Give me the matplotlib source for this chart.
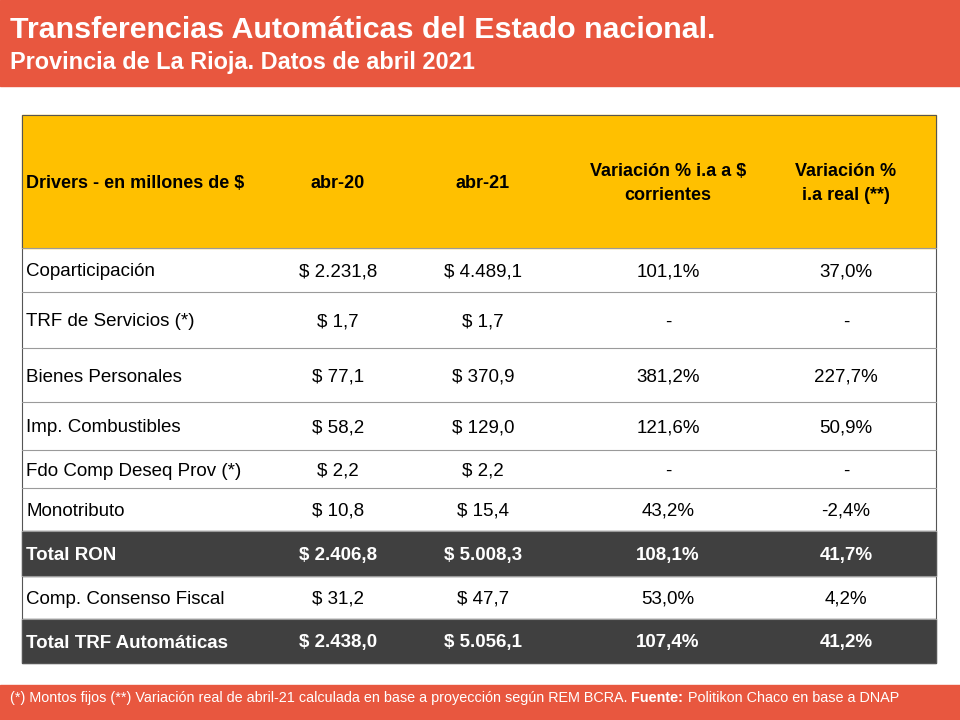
import matplotlib
matplotlib.use("Agg")
import matplotlib.pyplot as plt
from matplotlib.patches import Rectangle

plt.rcParams["font.family"] = ["Liberation Sans", "DejaVu Sans"]

title = "Transferencias Automáticas del Estado nacional."
subtitle = "Provincia de La Rioja. Datos de abril 2021"
headers = ["Drivers - en millones de $", "abr-20", "abr-21",
           "Variación % i.a a $\ncorrientes", "Variación %\ni.a real (**)"]
drivers = ["Coparticipación", "TRF de Servicios (*)", "Bienes Personales",
           "Imp. Combustibles", "Fdo Comp Deseq Prov (*)", "Monotributo",
           "Total RON", "Comp. Consenso Fiscal", "Total TRF Automáticas"]
abr20 = ["$ 2.231,8", "$ 1,7", "$ 77,1", "$ 58,2", "$ 2,2", "$ 10,8",
         "$ 2.406,8", "$ 31,2", "$ 2.438,0"]
abr21 = ["$ 4.489,1", "$ 1,7", "$ 370,9", "$ 129,0", "$ 2,2", "$ 15,4",
         "$ 5.008,3", "$ 47,7", "$ 5.056,1"]
var_nom = ["101,1%", "-", "381,2%", "121,6%", "-", "43,2%",
           "108,1%", "53,0%", "107,4%"]
var_real = ["37,0%", "-", "227,7%", "50,9%", "-", "-2,4%",
            "41,7%", "4,2%", "41,2%"]
total_rows = {"Total RON", "Total TRF Automáticas"}

orange = "#E8573F"
yellow = "#FFC000"
dark = "#404040"

fig = plt.figure(figsize=(9.6, 7.2), dpi=100)
ax = fig.add_axes([0, 0, 1, 1])
ax.set_xlim(0, 960)
ax.set_ylim(720, 0)
ax.axis("off")

# top banner
ax.add_patch(Rectangle((0, 0), 960, 86, color=orange))
ax.text(10, 30, title, color="white", fontsize=21.9, fontweight="bold", va="center")
ax.text(10, 63, subtitle, color="white", fontsize=16.9, fontweight="bold", va="center")

# table
left, right = 22, 936
col_x = [26, 338, 483, 668, 846]
bounds = [115, 248, 292, 348, 402, 450, 488, 531, 576, 619, 663]

ax.add_patch(Rectangle((left, bounds[0]), right - left, bounds[1] - bounds[0], color=yellow))
hy = (bounds[0] + bounds[1]) / 2 + 2
for i, h in enumerate(headers):
    ax.text(col_x[i], hy, h, fontsize=13, fontweight="bold", va="center",
            ha="left" if i == 0 else "center", linespacing=1.55)

for r, name in enumerate(drivers):
    y0, y1 = bounds[r + 1], bounds[r + 2]
    yc = (y0 + y1) / 2 + 2
    tot = name in total_rows
    if tot:
        ax.add_patch(Rectangle((left, y0), right - left, y1 - y0, color=dark))
    col = "white" if tot else "black"
    fw = "bold" if tot else "normal"
    vals = [name, abr20[r], abr21[r], var_nom[r], var_real[r]]
    for i, v in enumerate(vals):
        ax.text(col_x[i], yc, v, fontsize=13.5, color=col, fontweight=fw, va="center",
                ha="left" if i == 0 else "center")
    ax.plot([left, right], [y0, y0], color="#9a9a9a", lw=0.8)

ax.add_patch(Rectangle((left, bounds[0]), right - left, bounds[-1] - bounds[0],
                       fill=False, ec="#555555", lw=0.8))

# footer
ax.add_patch(Rectangle((0, 685), 960, 35, color=orange))
t1 = ax.text(10, 698, "(*) Montos fijos (**) Variación real de abril-21 calculada en base a proyección según REM BCRA. ",
             color="white", fontsize=10.4, va="center")
fig.canvas.draw()
r = fig.canvas.get_renderer()
x = 10 + t1.get_window_extent(r).width
t2 = ax.text(x, 698, "Fuente:", color="white", fontsize=10.4, fontweight="bold", va="center")
x += t2.get_window_extent(r).width
ax.text(x, 698, " Politikon Chaco en base a DNAP", color="white", fontsize=10.4, va="center")

fig.savefig("out.png", dpi=100)
